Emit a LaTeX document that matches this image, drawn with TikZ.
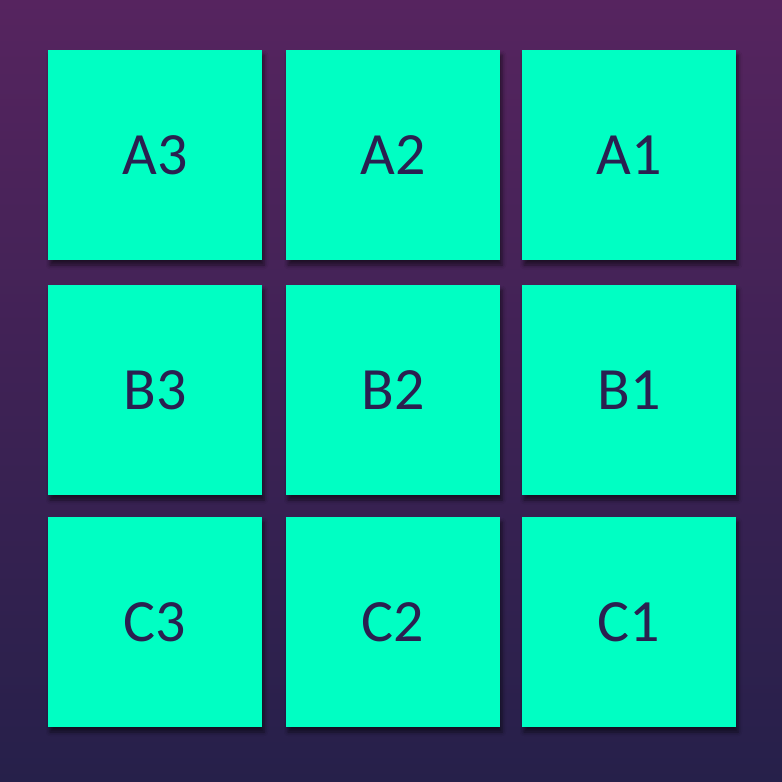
\documentclass[tikz,border=0pt]{standalone}
\usepackage{fontspec}
\setmainfont{Carlito}
\usetikzlibrary{shadows.blur}
\definecolor{bgtop}{HTML}{56245F}
\definecolor{bgbot}{HTML}{26204A}
\definecolor{mint}{HTML}{00FFC3}
\definecolor{ink}{HTML}{2A2050}
\tikzset{
  tile/.style={fill=mint, draw=none, minimum width=214pt, minimum height=210pt, inner sep=0pt,
    font=\fontsize{60}{60}\selectfont, text=ink,
    blur shadow={shadow xshift=2pt, shadow yshift=-5pt, shadow blur radius=4pt, shadow opacity=55}}
}
\begin{document}
\begin{tikzpicture}[x=1pt,y=-1pt]
\useasboundingbox (0,0) rectangle (782,782);
\shade[top color=bgtop, bottom color=bgbot] (0,0) rectangle (782,782);
\node[tile] (a3) at (155,155) {A3};
\node[tile] (a2) at (393,155) {A2};
\node[tile] (a1) at (629,155) {A1};
\node[tile] (b3) at (155,390) {B3};
\node[tile] (b2) at (393,390) {B2};
\node[tile] (b1) at (629,390) {B1};
\node[tile] (c3) at (155,622) {C3};
\node[tile] (c2) at (393,622) {C2};
\node[tile] (c1) at (629,622) {C1};
\end{tikzpicture}
\end{document}
